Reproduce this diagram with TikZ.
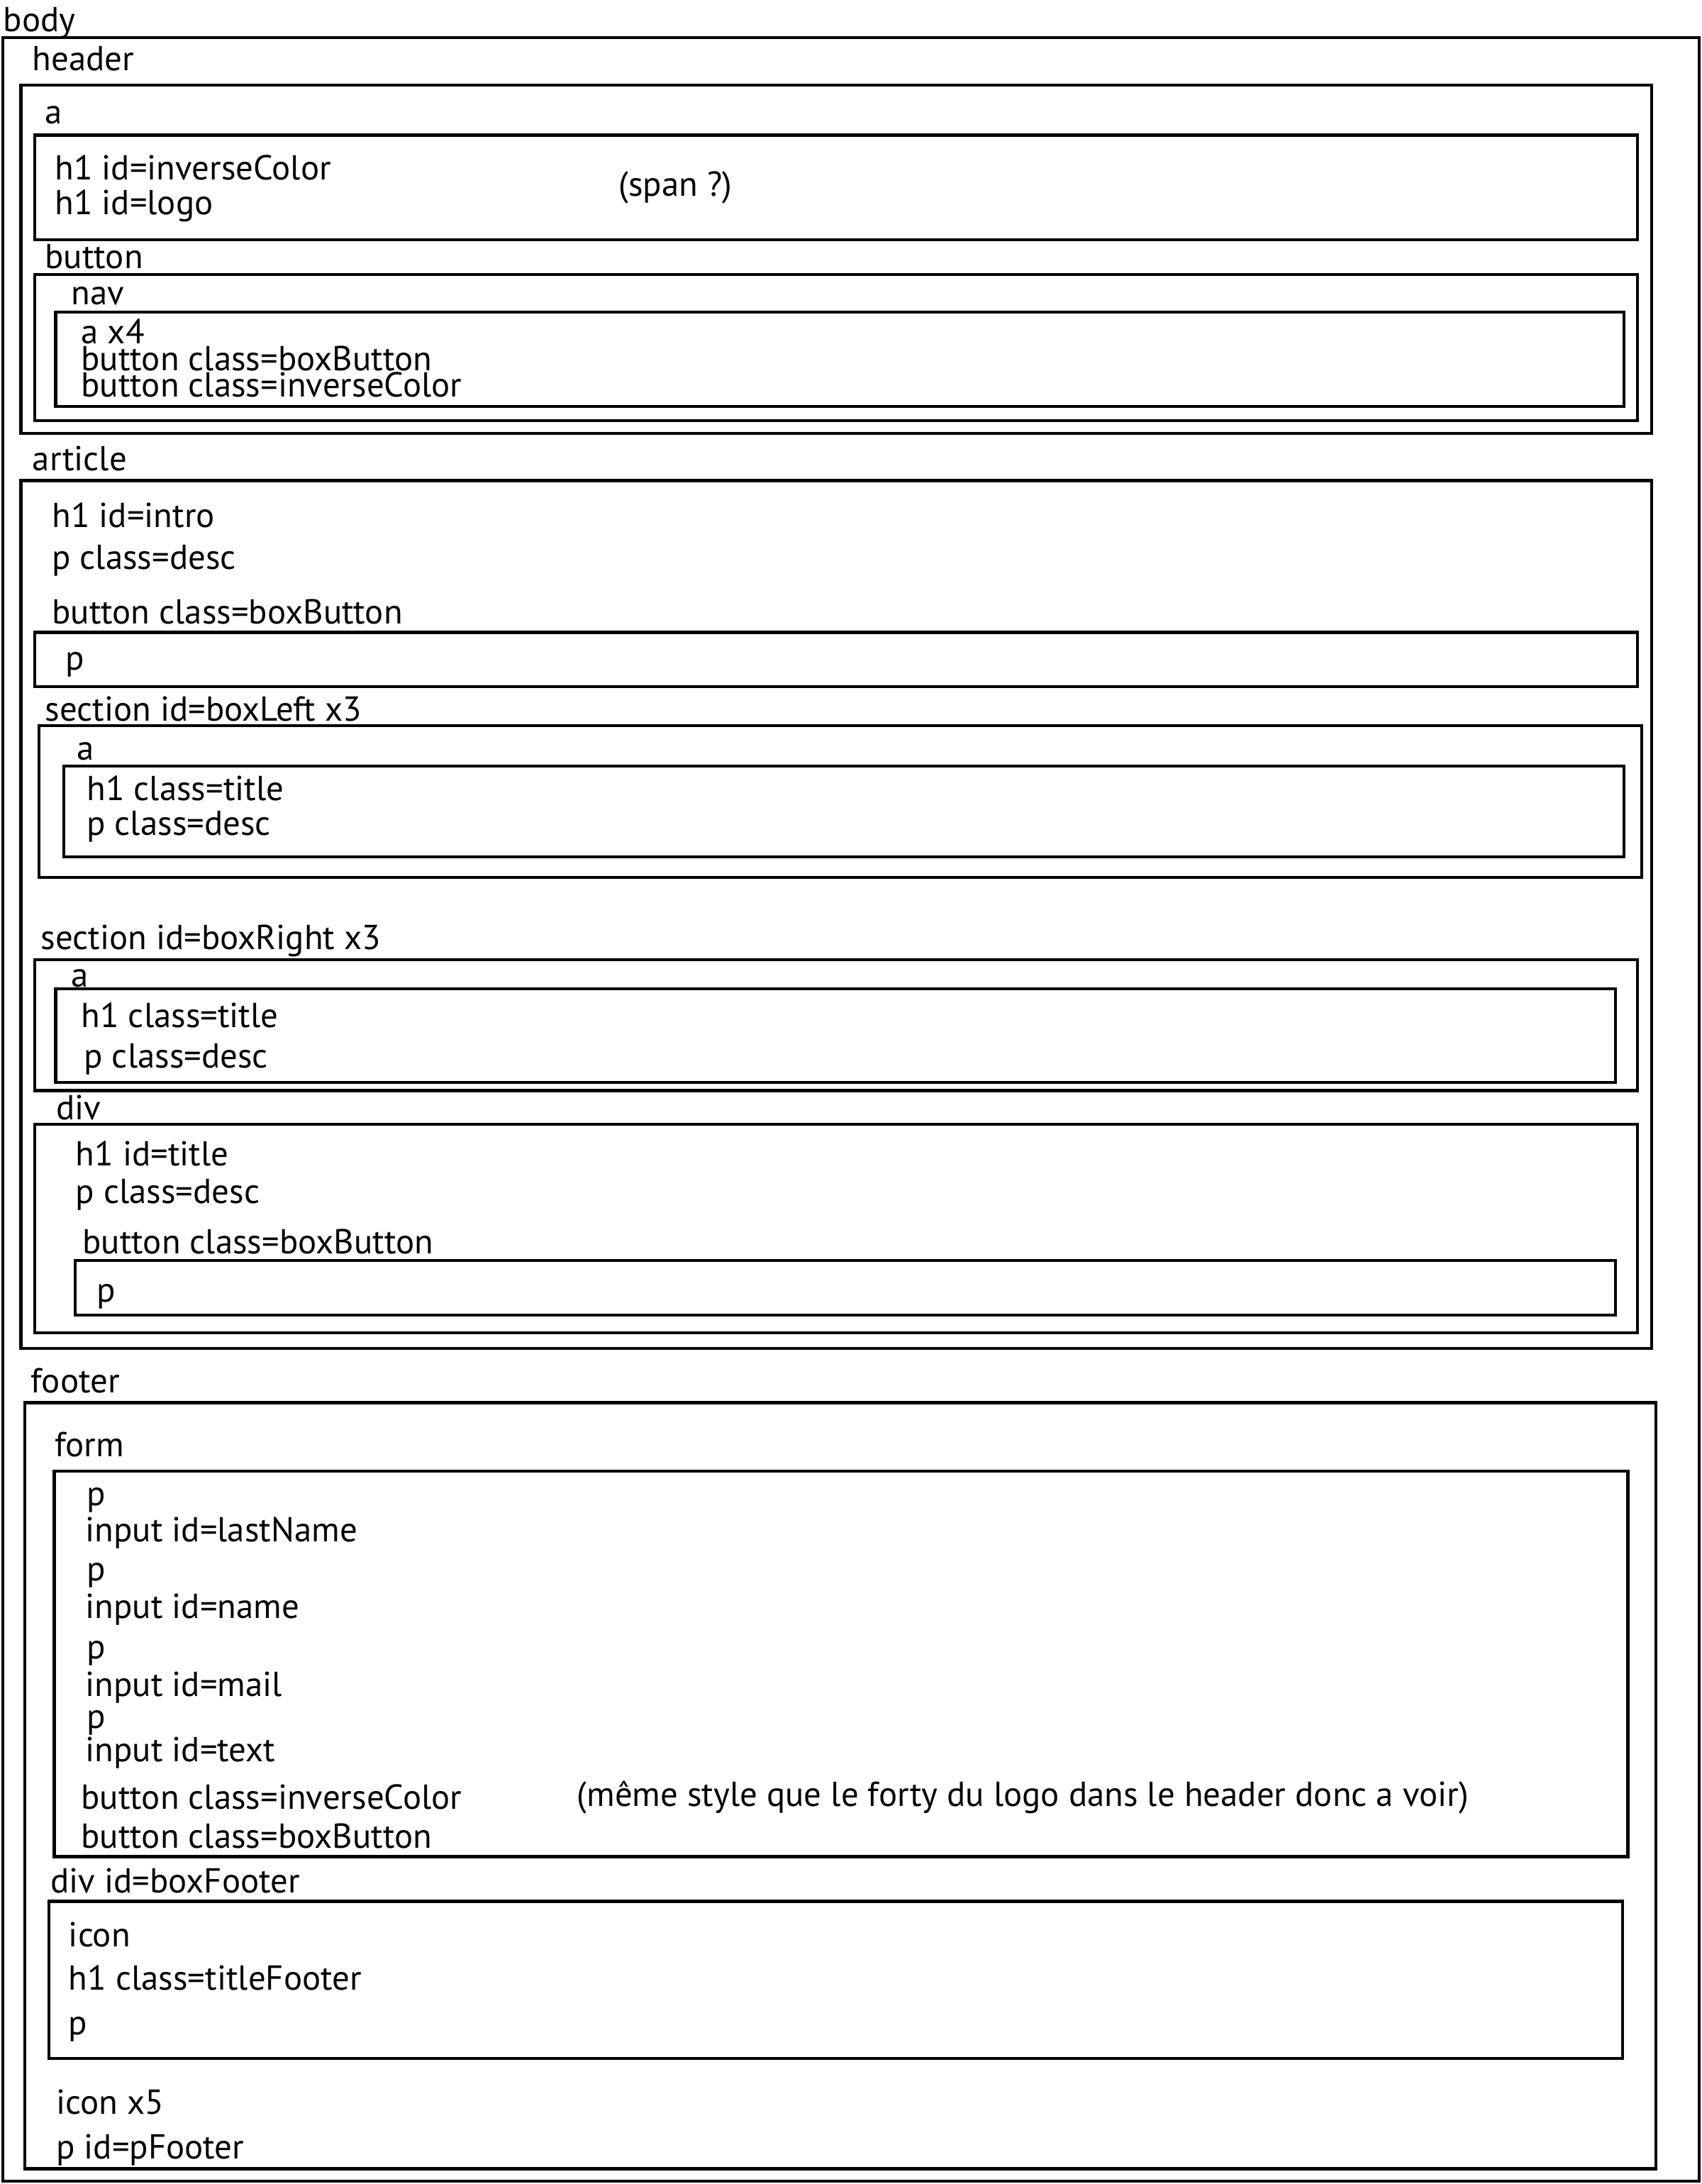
\documentclass[tikz,border=0pt]{standalone}
\usepackage{fontspec}
\setmainfont{PT Sans}
\tikzset{
  box/.style={line width=1.2pt},
  lbl/.style={anchor=west, inner sep=0pt, text height=9.9pt, text depth=0pt,
    font=\fontsize{13.9}{16}\selectfont}
}
\begin{document}
\begin{tikzpicture}[x=0.019632cm, y=-0.019632cm]
    \useasboundingbox (0,0) rectangle (1222,1568);

    % body
    \node[lbl] (body) at (2,14) {body};
    \draw[box] (2,27) rectangle (1220,1566);

    % header
    \node[lbl] (header) at (23,42) {header};
    \draw[box] (15,61) rectangle (1186,311);
    \node[lbl] (hdra) at (32,80) {a};
    \draw[box] (25,97) rectangle (1176,172);
    \node[lbl] (inverse) at (39,120) {h1 id=inverseColor};
    \node[lbl] (logo) at (39,145) {h1 id=logo};
    \node[lbl] (span) at (444,132) {(span ?)};
    \node[lbl] (hdrbtn) at (32,184) {button};
    \draw[box] (25,197) rectangle (1176,302);
    \node[lbl] (nav) at (51,210) {nav};
    \draw[box] (40,224) rectangle (1166,292);
    \node[lbl] (navA) at (58,238) {a x4};
    \node[lbl] (navB) at (58,257) {button class=boxButton};
    \node[lbl] (navC) at (58,276) {button class=inverseColor};

    % article
    \node[lbl] (article) at (23,329) {article};
    \draw[box] (15,345) rectangle (1186,968);
    \node[lbl] (intro) at (37,370) {h1 id=intro};
    \node[lbl] (desc) at (37,400) {p class=desc};
    \node[lbl] (artbtn) at (37,439) {button class=boxButton};
    \draw[box] (25,454) rectangle (1176,493);
    \node[lbl] (artp) at (47,472) {p};

    % section boxLeft
    \node[lbl] (left) at (32,509) {section id=boxLeft x3};
    \draw[box] (28,521) rectangle (1179,630);
    \node[lbl] (leftA) at (55,537) {a};
    \draw[box] (46,550) rectangle (1166,615);
    \node[lbl] (leftT) at (62,566) {h1 class=title};
    \node[lbl] (leftD) at (62,591) {p class=desc};

    % section boxRight
    \node[lbl] (right) at (29,673) {section id=boxRight x3};
    \draw[box] (25,689) rectangle (1176,783);
    \node[lbl] (rightA) at (51,700) {a};
    \draw[box] (40,710) rectangle (1160,777);
    \node[lbl] (rightT) at (58,729) {h1 class=title};
    \node[lbl] (rightD) at (60,758) {p class=desc};
    \node[lbl] (div) at (40,795) {div};
    \draw[box] (25,807) rectangle (1176,957);
    \node[lbl] (divT) at (54,828) {h1 id=title};
    \node[lbl] (divD) at (54,855) {p class=desc};
    \node[lbl] (divbtn) at (59,891) {button class=boxButton};
    \draw[box] (54,905) rectangle (1160,944);
    \node[lbl] (divp) at (69,926) {p};

    % footer
    \node[lbl] (footer) at (22,991) {footer};
    \draw[box] (18,1007) rectangle (1189,1557);
    \node[lbl] (form) at (39,1037) {form};
    \draw[box] (39,1056) rectangle (1169,1333);
    \node[lbl] (p1) at (62,1072) {p};
    \node[lbl] (lastname) at (61,1098) {input id=lastName};
    \node[lbl] (p2) at (62,1126) {p};
    \node[lbl] (name) at (61,1153) {input id=name};
    \node[lbl] (p3) at (62,1182) {p};
    \node[lbl] (mail) at (61,1209) {input id=mail};
    \node[lbl] (p4) at (62,1232) {p};
    \node[lbl] (text) at (61,1256) {input id=text};
    \node[lbl] (frmInv) at (58,1290) {button class=inverseColor};
    \node[lbl] (frmBox) at (58,1318) {button class=boxButton};
    \node[lbl] (note) at (414,1288) {(même style que le forty du logo dans le header donc a voir)};

    % boxFooter
    \node[lbl] (boxfooter) at (36,1350) {div id=boxFooter};
    \draw[box] (35,1365) rectangle (1165,1478);
    \node[lbl] (icon) at (49,1389) {icon};
    \node[lbl] (title) at (49,1420) {h1 class=titleFooter};
    \node[lbl] (ftp) at (49,1452) {p};
    \node[lbl] (icons) at (40,1509) {icon x5};
    \node[lbl] (pfooter) at (40,1541) {p id=pFooter};
\end{tikzpicture}
\end{document}
